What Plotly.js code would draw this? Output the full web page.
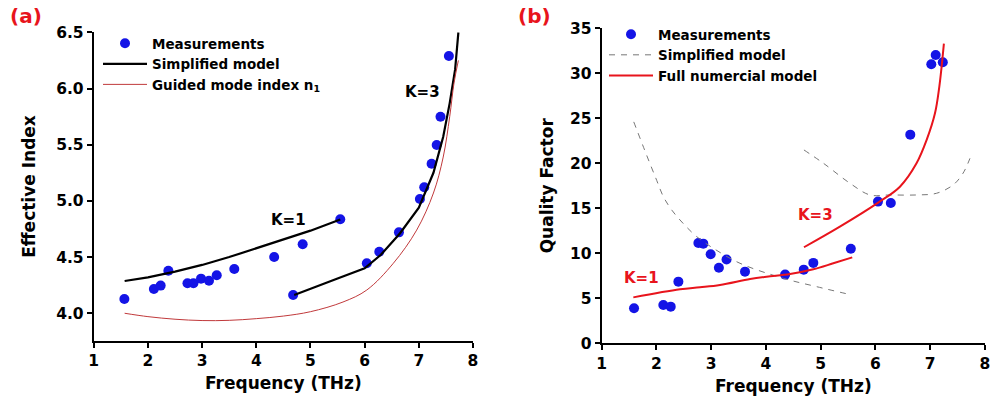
<!DOCTYPE html>
<html>
<head>
<meta charset="utf-8">
<script src="https://cdn.plot.ly/plotly-3.0.1.min.js"></script>
<style>html,body{margin:0;padding:0;background:#fff;}#chart{width:991px;height:400px;}</style>
</head>
<body>
<div id="chart"></div>
<script>
// ---- Panel (a): Effective index ----
const measFreqA = [1.565, 2.11, 2.235, 2.377, 2.73, 2.84, 2.98, 3.127, 3.27, 3.594, 4.33, 4.856, 5.55, 4.68, 6.04, 6.27, 6.633, 7.02, 7.1, 7.236, 7.33, 7.40, 7.555];
const measIndexA = [4.127, 4.216, 4.246, 4.379, 4.267, 4.267, 4.308, 4.29, 4.338, 4.394, 4.5, 4.614, 4.836, 4.163, 4.445, 4.548, 4.72, 5.017, 5.121, 5.331, 5.497, 5.749, 6.289];

const simpK1FreqA = [1.57, 2.0, 2.5, 3.0, 3.5, 4.0, 4.5, 5.0, 5.55];
const simpK1IndexA = [4.287, 4.32, 4.37, 4.43, 4.50, 4.58, 4.655, 4.735, 4.835];

const simpK3FreqA = [4.70, 5.0, 5.5, 6.0, 6.3, 6.65, 7.0, 7.27, 7.45, 7.57, 7.67, 7.73];
const simpK3IndexA = [4.163, 4.22, 4.31, 4.40, 4.52, 4.71, 4.94, 5.25, 5.57, 5.87, 6.17, 6.50];

const guidedFreqA = [1.57, 2.0, 2.5, 3.0, 3.5, 4.0, 4.5, 5.0, 5.6, 6.04, 6.53, 6.96, 7.27, 7.45, 7.57, 7.65, 7.73];
const guidedIndexA = [4.0, 3.97, 3.947, 3.935, 3.937, 3.952, 3.975, 4.014, 4.10, 4.207, 4.445, 4.74, 5.07, 5.39, 5.75, 6.05, 6.25];

// ---- Panel (b): Quality factor ----
const measFreqB = [1.59, 2.125, 2.26, 2.40, 2.765, 2.855, 2.99, 3.14, 3.28, 3.617, 4.35, 4.69, 4.865, 5.55, 6.046, 6.28, 6.636, 7.02, 7.10, 7.23];
const measQB = [3.89, 4.26, 4.07, 6.85, 11.14, 11.07, 9.89, 8.4, 9.3, 7.96, 7.63, 8.18, 8.93, 10.51, 15.74, 15.59, 23.18, 31.0, 32.03, 31.22];

const simpK1FreqB = [1.585, 1.82, 2.004, 2.125, 2.28, 2.49, 2.735, 3.04, 3.525, 4.317, 4.926, 5.565];
const simpK1QB = [24.6, 20.9, 18.1, 16.3, 14.8, 13.3, 11.85, 10.55, 8.89, 7.22, 6.29, 5.37];

const simpK3FreqB = [4.694, 5.05, 5.534, 5.9, 6.265, 6.75, 7.117, 7.42, 7.6, 7.726];
const simpK3QB = [21.48, 20.0, 17.78, 16.48, 16.48, 16.48, 16.67, 17.6, 18.9, 20.55];

const fullK1FreqB = [1.577, 2.43, 2.795, 3.16, 3.71, 4.01, 4.44, 4.865, 5.23, 5.576];
const fullK1QB = [5.1, 6.0, 6.22, 6.48, 7.14, 7.4, 7.7, 8.22, 8.89, 9.55];

const fullK3FreqB = [4.694, 5.35, 6.05, 6.447, 6.75, 6.935, 7.087, 7.166, 7.25];
const fullK3QB = [10.67, 12.96, 15.63, 17.4, 20.0, 22.6, 25.55, 28.5, 33.3];

const xTicks = [1, 2, 3, 4, 5, 6, 7, 8];
const yTicksA = [4.0, 4.5, 5.0, 5.5, 6.0, 6.5];
const yTicksB = [0, 5, 10, 15, 20, 25, 30, 35];

const FONT = 'DejaVu Sans';
const BLUE = '#1414e6';
const RED = '#e8141c';

const traces = [
  {x: measFreqA, y: measIndexA, type: 'scatter', mode: 'markers', name: 'Measurements',
   marker: {color: BLUE, size: 10}, xaxis: 'x', yaxis: 'y', legend: 'legend'},
  {x: simpK1FreqA, y: simpK1IndexA, type: 'scatter', mode: 'lines', name: 'Simplified model',
   line: {color: '#000', width: 2.2}, xaxis: 'x', yaxis: 'y', legend: 'legend'},
  {x: simpK3FreqA, y: simpK3IndexA, type: 'scatter', mode: 'lines', name: 'Simplified model', showlegend: false,
   line: {color: '#000', width: 2.2}, xaxis: 'x', yaxis: 'y', legend: 'legend'},
  {x: guidedFreqA, y: guidedIndexA, type: 'scatter', mode: 'lines', name: 'Guided mode index n<sub>1</sub>',
   line: {color: '#c0393b', width: 1, shape: 'spline'}, xaxis: 'x', yaxis: 'y', legend: 'legend'},

  {x: measFreqB, y: measQB, type: 'scatter', mode: 'markers', name: 'Measurements',
   marker: {color: BLUE, size: 10}, xaxis: 'x2', yaxis: 'y2', legend: 'legend2'},
  {x: simpK1FreqB, y: simpK1QB, type: 'scatter', mode: 'lines', name: 'Simplified model',
   line: {color: '#777', width: 1, dash: '6px,6px', shape: 'spline'}, xaxis: 'x2', yaxis: 'y2', legend: 'legend2'},
  {x: simpK3FreqB, y: simpK3QB, type: 'scatter', mode: 'lines', name: 'Simplified model', showlegend: false,
   line: {color: '#777', width: 1, dash: '6px,6px', shape: 'spline'}, xaxis: 'x2', yaxis: 'y2', legend: 'legend2'},
  {x: fullK1FreqB, y: fullK1QB, type: 'scatter', mode: 'lines', name: 'Full numercial model',
   line: {color: RED, width: 2, shape: 'spline'}, xaxis: 'x2', yaxis: 'y2', legend: 'legend2'},
  {x: fullK3FreqB, y: fullK3QB, type: 'scatter', mode: 'lines', name: 'Full numercial model', showlegend: false,
   line: {color: RED, width: 2, shape: 'spline'}, xaxis: 'x2', yaxis: 'y2', legend: 'legend2'}
];

function axisBase(extra) {
  return Object.assign({
    showline: true, linecolor: '#000', linewidth: 2,
    ticks: 'outside', ticklen: 5, tickwidth: 2, tickcolor: '#000',
    showgrid: false, zeroline: false, mirror: false,
    tickfont: {family: FONT, size: 15.5, color: '#000', weight: 'bold'},
    automargin: false, fixedrange: true
  }, extra);
}

const titleFont = {family: FONT, size: 17, color: '#000', weight: 'bold'};
const legendFont = {family: FONT, size: 13.5, color: '#000', weight: 'bold'};

const layout = {
  width: 991, height: 400,
  margin: {l: 0, r: 0, t: 0, b: 0},
  paper_bgcolor: '#fff', plot_bgcolor: '#fff',
  showlegend: true,
  xaxis: axisBase({domain: [0.0946, 0.4773], range: [1, 8], tickvals: xTicks, ticktext: xTicks.map(String), anchor: 'y',
    title: {text: 'Frequency (THz)', font: titleFont, standoff: 8}}),
  yaxis: axisBase({domain: [0.1483, 0.9192], range: [3.756, 6.5], tickvals: yTicksA, ticktext: yTicksA.map(v => v.toFixed(1)), anchor: 'x',
    title: {text: 'Effective Index', font: titleFont, standoff: 16}}),
  xaxis2: axisBase({domain: [0.6072, 0.9939], range: [1, 8], tickvals: xTicks, ticktext: xTicks.map(String), anchor: 'y2',
    title: {text: 'Frequency (THz)', font: titleFont, standoff: 8}}),
  yaxis2: axisBase({domain: [0.1418, 0.9293], range: [0, 35], tickvals: yTicksB, ticktext: yTicksB.map(String), anchor: 'x2',
    title: {text: 'Quality Factor', font: titleFont, standoff: 12}}),
  legend: {x: 98 / 991, y: 1 - 28 / 400, xanchor: 'left', yanchor: 'top', bgcolor: 'rgba(0,0,0,0)',
    font: legendFont, itemwidth: 44, tracegroupgap: 0, borderwidth: 0},
  legend2: {x: 604 / 991, y: 1 - 19 / 400, xanchor: 'left', yanchor: 'top', bgcolor: 'rgba(0,0,0,0)',
    font: legendFont, itemwidth: 44, tracegroupgap: 0, borderwidth: 0},
  annotations: [
    {text: '(a)', x: 8 / 991, y: 1 - 16 / 400, xref: 'paper', yref: 'paper', showarrow: false, xanchor: 'left', yanchor: 'middle',
     font: {family: FONT, size: 20, color: RED, weight: 'bold'}},
    {text: '(b)', x: 516 / 991, y: 1 - 16 / 400, xref: 'paper', yref: 'paper', showarrow: false, xanchor: 'left', yanchor: 'middle',
     font: {family: FONT, size: 20, color: RED, weight: 'bold'}},
    {text: 'K=1', x: 4.6, y: 4.83, xref: 'x', yref: 'y', showarrow: false,
     font: {family: FONT, size: 15, color: '#000', weight: 'bold'}},
    {text: 'K=3', x: 7.07, y: 5.97, xref: 'x', yref: 'y', showarrow: false,
     font: {family: FONT, size: 15, color: '#000', weight: 'bold'}},
    {text: 'K=1', x: 1.73, y: 7.26, xref: 'x2', yref: 'y2', showarrow: false,
     font: {family: FONT, size: 15, color: RED, weight: 'bold'}},
    {text: 'K=3', x: 4.9, y: 14.26, xref: 'x2', yref: 'y2', showarrow: false,
     font: {family: FONT, size: 15, color: RED, weight: 'bold'}}
  ]
};

Plotly.newPlot('chart', traces, layout, {displayModeBar: false, staticPlot: true});
</script>
</body>
</html>
